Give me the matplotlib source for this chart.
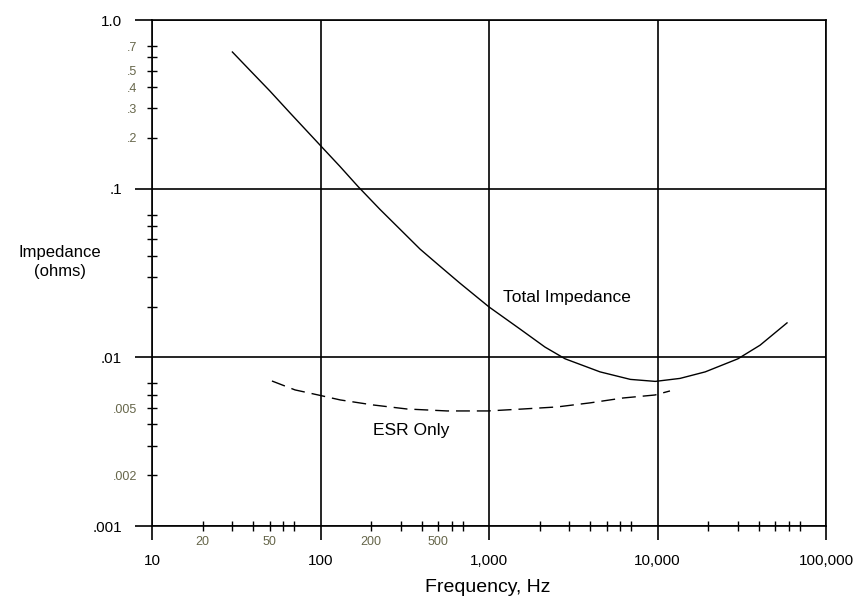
import matplotlib
matplotlib.use('Agg')
import matplotlib.pyplot as plt
from matplotlib.ticker import FixedLocator, FixedFormatter

plt.rcParams['font.family'] = ['Liberation Sans', 'DejaVu Sans']

# Total impedance curve
freq_total = [30, 38, 50, 66, 100, 130, 167, 225, 300, 390, 510, 670, 1000, 1530, 2150,
              2830, 4560, 6900, 9700, 13600, 19200, 30000, 40600, 58700]
z_total = [0.646, 0.505, 0.38, 0.281, 0.18, 0.136, 0.103, 0.0755, 0.0568, 0.0438, 0.0348,
           0.0276, 0.0199, 0.0147, 0.0115, 0.0098, 0.0082, 0.0074, 0.0072, 0.0075, 0.0082,
           0.0098, 0.0118, 0.016]

# ESR only curve
freq_esr = [51.5, 70.6, 97, 131, 205, 326, 563, 986, 1590, 2535, 3975, 6240, 9660, 11860]
z_esr = [0.00724, 0.00641, 0.00598, 0.00559, 0.00522, 0.00494, 0.00481, 0.00481, 0.00494,
         0.00508, 0.00537, 0.00574, 0.00598, 0.00632]

# ticks and labels
x_major = [10, 100, 1000, 10000, 100000]
x_major_labels = ['10', '100', '1,000', '10,000', '100,000']
x_minor = [20, 30, 40, 50, 60, 70, 200, 300, 400, 500, 600, 700,
           2000, 3000, 4000, 5000, 6000, 7000, 20000, 30000, 40000, 50000, 60000, 70000]
x_minor_labels = ['20', '', '', '50', '', '', '200', '', '', '500', '', '',
                  '', '', '', '', '', '', '', '', '', '', '', '']
y_major = [0.001, 0.01, 0.1, 1.0]
y_major_labels = ['.001', '.01', '.1', '1.0']
y_minor = [0.002, 0.003, 0.004, 0.005, 0.006, 0.007,
           0.02, 0.03, 0.04, 0.05, 0.06, 0.07,
           0.2, 0.3, 0.4, 0.5, 0.6, 0.7]
y_minor_labels = ['.002', '', '', '.005', '', '',
                  '', '', '', '', '', '',
                  '.2', '.3', '.4', '.5', '', '.7']

fig = plt.figure(figsize=(8.56, 6.03), dpi=100)
ax = fig.add_axes([152 / 856, 1 - 526 / 603, 674 / 856, 506 / 603])
ax.set_xscale('log')
ax.set_yscale('log')
ax.set_xlim(10, 100000)
ax.set_ylim(0.001, 1.0)

ax.plot(freq_total, z_total, color='black', lw=1.0)
ax.plot(freq_esr, z_esr, color='black', lw=1.0, linestyle=(0, (10, 5)))

ax.xaxis.set_major_locator(FixedLocator(x_major))
ax.xaxis.set_major_formatter(FixedFormatter(x_major_labels))
ax.xaxis.set_minor_locator(FixedLocator(x_minor))
ax.xaxis.set_minor_formatter(FixedFormatter(x_minor_labels))
ax.yaxis.set_major_locator(FixedLocator(y_major))
ax.yaxis.set_major_formatter(FixedFormatter(y_major_labels))
ax.yaxis.set_minor_locator(FixedLocator(y_minor))
ax.yaxis.set_minor_formatter(FixedFormatter(y_minor_labels))

olive = '#66664a'
ax.tick_params(axis='x', which='major', direction='out', length=10, width=1.2, pad=10, labelsize=11)
ax.tick_params(axis='y', which='major', direction='out', length=12.5, width=1.2, pad=9, labelsize=11)
ax.tick_params(axis='x', which='minor', direction='inout', length=7, width=1.0, pad=4,
               labelsize=9, labelcolor=olive)
ax.tick_params(axis='y', which='minor', direction='inout', length=7, width=1.0, pad=7,
               labelsize=9, labelcolor=olive)

ax.grid(True, which='major', color='black', lw=1.2)
for s in ax.spines.values():
    s.set_linewidth(1.2)

#Labels
ax.text(1210, 0.0226, 'Total Impedance', fontsize=12.5, ha='left', va='center')
ax.text(204, 0.0037, 'ESR Only', fontsize=12.5, ha='left', va='center')
fig.text(60 / 856, 1 - 262 / 603, 'Impedance\n(ohms)', fontsize=12, ha='center', va='center',
         linespacing=1.35)
fig.text(488 / 856, 1 - 588 / 603, 'Frequency, Hz', fontsize=14, ha='center', va='center')

plt.savefig('out.png', dpi=100)
